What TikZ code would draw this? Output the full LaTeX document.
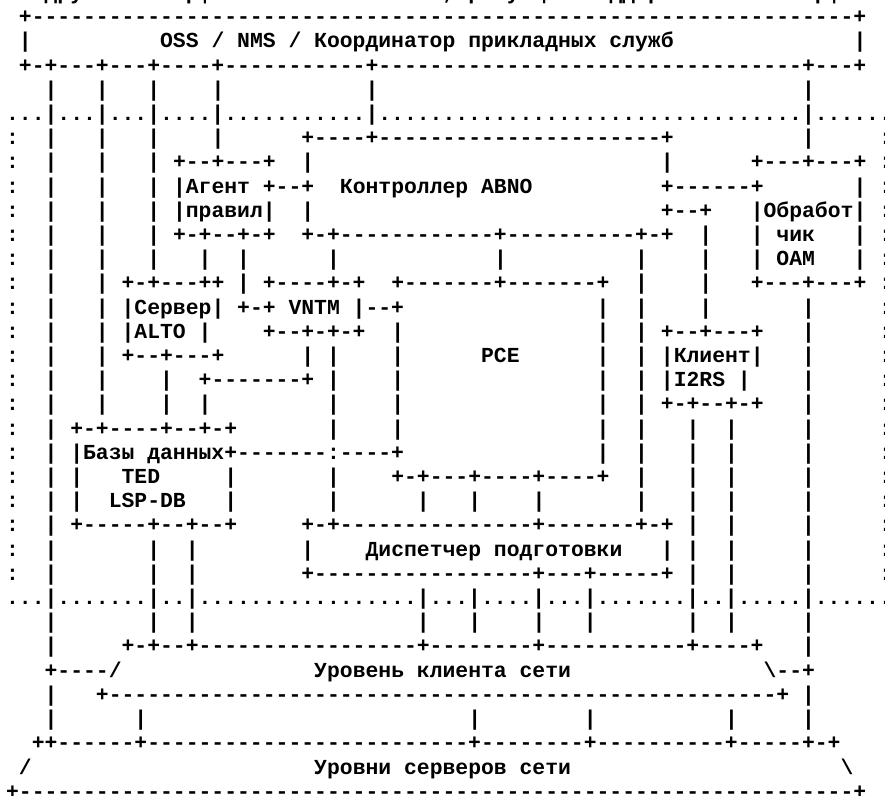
\documentclass[tikz,border=0pt]{standalone}
\usepackage{fontspec}
\setmonofont{Liberation Mono}
\ExplSyntaxOn
\cs_new:Npn \artrep #1#2 { \prg_replicate:nn {#1} {#2} }
\ExplSyntaxOff
\tikzset{
  art/.style={anchor=base west, inner sep=0pt, outer sep=0pt, text=black,
    font=\fontsize{10.698pt}{12.1pt}\selectfont\ttfamily\bfseries}
}
% one character cell = 1 x-unit, one text line = 1 y-unit
\newcommand\artrow{0}
\newcommand\seg[2]{\node[art] (s\artrow-#1) at (#1+0.4735, \artrow-0.0165) {#2};}
\begin{document}
\begin{tikzpicture}[x=6.42pt, y=-12.1pt]
\useasboundingbox[fill=white] (0pt,0pt) rectangle (442.5pt,-398pt);

% line above the frame
\renewcommand\artrow{0}
\seg{3}{другой интерфейс}\seg{34}{,}\seg{35}{требующий поддержки}\seg{59}{интерфейса}

% OSS / NMS
\renewcommand\artrow{1}
\seg{1}{+\artrep{64}{-}+}
\renewcommand\artrow{2}
\seg{1}{|}\seg{12}{OSS / NMS / Координатор прикладных служб}\seg{66}{|}
\renewcommand\artrow{3}
\seg{1}{+-+---+---+----+\artrep{11}{-}+\artrep{33}{-}+---+}
\renewcommand\artrow{4}
\seg{3}{|}\seg{7}{|}\seg{11}{|}\seg{16}{|}\seg{28}{|}\seg{62}{|}
\renewcommand\artrow{5}
\seg{0}{...|...|...|....|\artrep{11}{.}|\artrep{33}{.}|......}

% controller, policy agent, OAM handler
\renewcommand\artrow{6}
\seg{0}{:}\seg{3}{|}\seg{7}{|}\seg{11}{|}\seg{16}{|}
\seg{23}{+----+\artrep{22}{-}+}\seg{62}{|}\seg{68}{:}
\renewcommand\artrow{7}
\seg{0}{:}\seg{3}{|}\seg{7}{|}\seg{11}{|}
\seg{13}{+--+---+}\seg{23}{|}\seg{51}{|}\seg{58}{+---+---+}\seg{68}{:}
\renewcommand\artrow{8}
\seg{0}{:}\seg{3}{|}\seg{7}{|}\seg{11}{|}
\seg{13}{|Агент +--+}\seg{26}{Контроллер ABNO}\seg{51}{+------+}\seg{66}{|}\seg{68}{:}
\renewcommand\artrow{9}
\seg{0}{:}\seg{3}{|}\seg{7}{|}\seg{11}{|}
\seg{13}{|правил|}\seg{23}{|}\seg{51}{+--+}\seg{58}{|Обработ|}\seg{68}{:}
\renewcommand\artrow{10}
\seg{0}{:}\seg{3}{|}\seg{7}{|}\seg{11}{|}
\seg{13}{+-+--+-+}\seg{23}{+-+\artrep{12}{-}+\artrep{10}{-}+-+}
\seg{54}{|}\seg{58}{|}\seg{60}{чик}\seg{66}{|}\seg{68}{:}
\renewcommand\artrow{11}
\seg{0}{:}\seg{3}{|}\seg{7}{|}\seg{11}{|}\seg{15}{|}\seg{18}{|}\seg{25}{|}
\seg{38}{|}\seg{49}{|}\seg{54}{|}\seg{58}{|}\seg{60}{OAM}\seg{66}{|}\seg{68}{:}

% ALTO, VNTM, PCE, I2RS
\renewcommand\artrow{12}
\seg{0}{:}\seg{3}{|}\seg{7}{|}
\seg{9}{+-+---++}\seg{18}{|}\seg{20}{+----+-+}\seg{30}{+\artrep{7}{-}+\artrep{7}{-}+}
\seg{49}{|}\seg{54}{|}\seg{58}{+---+---+}\seg{68}{:}
\renewcommand\artrow{13}
\seg{0}{:}\seg{3}{|}\seg{7}{|}
\seg{9}{|Сервер| +-+ VNTM |--+}
\seg{46}{|}\seg{49}{|}\seg{54}{|}\seg{62}{|}\seg{68}{:}
\renewcommand\artrow{14}
\seg{0}{:}\seg{3}{|}\seg{7}{|}
\seg{9}{|ALTO  |}\seg{20}{+--+-+-+}\seg{30}{|}\seg{46}{|}\seg{49}{|}
\seg{51}{+--+---+}\seg{62}{|}\seg{68}{:}
\renewcommand\artrow{15}
\seg{0}{:}\seg{3}{|}\seg{7}{|}
\seg{9}{+--+---+}\seg{23}{|}\seg{25}{|}\seg{30}{|}\seg{37}{PCE}\seg{46}{|}\seg{49}{|}
\seg{51}{|Клиент|}\seg{62}{|}\seg{68}{:}
\renewcommand\artrow{16}
\seg{0}{:}\seg{3}{|}\seg{7}{|}
\seg{12}{|}\seg{15}{+-------+}\seg{25}{|}\seg{30}{|}\seg{46}{|}\seg{49}{|}
\seg{51}{|I2RS  |}\seg{62}{|}\seg{68}{:}
\renewcommand\artrow{17}
\seg{0}{:}\seg{3}{|}\seg{7}{|}\seg{12}{|}\seg{15}{|}\seg{25}{|}\seg{30}{|}\seg{46}{|}\seg{49}{|}
\seg{51}{+-+--+-+}\seg{62}{|}\seg{68}{:}

% databases
\renewcommand\artrow{18}
\seg{0}{:}\seg{3}{|}
\seg{5}{+-+----+--+-+}\seg{25}{|}\seg{30}{|}\seg{46}{|}\seg{49}{|}
\seg{53}{|}\seg{56}{|}\seg{62}{|}\seg{68}{:}
\renewcommand\artrow{19}
\seg{0}{:}\seg{3}{|}
\seg{5}{|Базы данных+-------:----+}\seg{46}{|}\seg{49}{|}
\seg{53}{|}\seg{56}{|}\seg{62}{|}\seg{68}{:}
\renewcommand\artrow{20}
\seg{0}{:}\seg{3}{|}\seg{5}{|}\seg{9}{TED}\seg{17}{|}\seg{25}{|}
\seg{30}{+-+---+----+----+}\seg{49}{|}\seg{53}{|}\seg{56}{|}\seg{62}{|}\seg{68}{:}
\renewcommand\artrow{21}
\seg{0}{:}\seg{3}{|}\seg{5}{|}\seg{8}{LSP-DB}\seg{17}{|}\seg{25}{|}
\seg{32}{|}\seg{36}{|}\seg{41}{|}\seg{49}{|}\seg{53}{|}\seg{56}{|}\seg{62}{|}\seg{68}{:}

% provisioning manager
\renewcommand\artrow{22}
\seg{0}{:}\seg{3}{|}
\seg{5}{+-----+--+--+}\seg{23}{+-+\artrep{15}{-}+\artrep{7}{-}+-+}
\seg{53}{|}\seg{56}{|}\seg{62}{|}\seg{68}{:}
\renewcommand\artrow{23}
\seg{0}{:}\seg{3}{|}\seg{11}{|}\seg{14}{|}\seg{23}{|}
\seg{28}{Диспетчер подготовки}\seg{51}{|}\seg{53}{|}\seg{56}{|}\seg{62}{|}\seg{68}{:}
\renewcommand\artrow{24}
\seg{0}{:}\seg{3}{|}\seg{11}{|}\seg{14}{|}
\seg{23}{+\artrep{17}{-}+---+-----+}\seg{53}{|}\seg{56}{|}\seg{62}{|}\seg{68}{:}
\renewcommand\artrow{25}
\seg{0}{...|.......|..|\artrep{17}{.}|...|....|...|.......|..|.....|......}
\renewcommand\artrow{26}
\seg{3}{|}\seg{11}{|}\seg{14}{|}\seg{32}{|}\seg{36}{|}\seg{41}{|}\seg{45}{|}
\seg{53}{|}\seg{56}{|}\seg{62}{|}

% client network layer
\renewcommand\artrow{27}
\seg{3}{|}\seg{9}{+-+--+\artrep{17}{-}+\artrep{8}{-}+\artrep{11}{-}+----+}\seg{62}{|}
\renewcommand\artrow{28}
\seg{3}{+----/}\seg{24}{Уровень клиента сети}\seg{59}{\textbackslash--+}
\renewcommand\artrow{29}
\seg{3}{|}\seg{7}{+\artrep{52}{-}+}\seg{62}{|}
\renewcommand\artrow{30}
\seg{3}{|}\seg{10}{|}\seg{36}{|}\seg{45}{|}\seg{56}{|}\seg{62}{|}

% server network layers
\renewcommand\artrow{31}
\seg{2}{++\artrep{6}{-}+\artrep{25}{-}+\artrep{8}{-}+\artrep{10}{-}+\artrep{5}{-}+-+}
\renewcommand\artrow{32}
\seg{1}{/}\seg{24}{Уровни серверов сети}\seg{65}{\textbackslash}
\renewcommand\artrow{33}
\seg{0}{+\artrep{65}{-}+}
\end{tikzpicture}
\end{document}
